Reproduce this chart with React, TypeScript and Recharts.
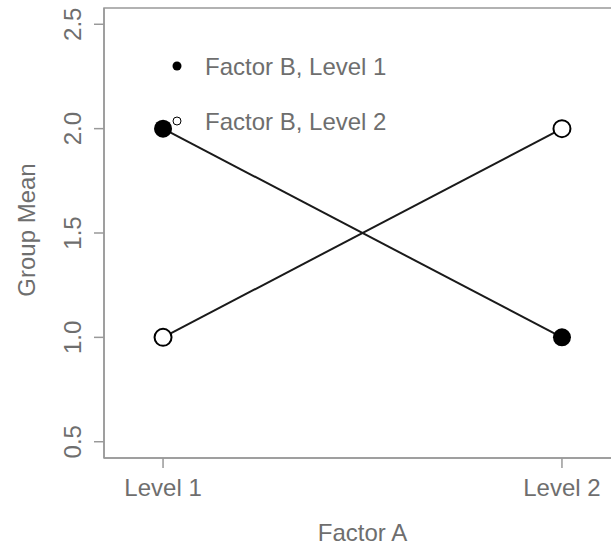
import React from "react";
import { LineChart, Line, XAxis, YAxis, ReferenceArea, Legend } from "recharts";

const factorALevels = [1, 2];
const factorALabels = ["Level 1", "Level 2"];
const seriesB1 = [2, 1];
const seriesB2 = [1, 2];
const yTicks = [0.5, 1.0, 1.5, 2.0, 2.5];
const seriesNames = ["Factor B, Level 1", "Factor B, Level 2"];

const xDomain: [number, number] = [0.852, 2.148];
const yDomain: [number, number] = [0.422, 2.578];

const data = factorALevels.map((x, i) => ({ x, b1: seriesB1[i], b2: seriesB2[i] }));

const FONT = "'Liberation Sans', Arial, Helvetica, sans-serif";
const TEXT = "#6e6e6e";
const AXIS = "#999999";
const FS = 24;

const YTick = (props: any) => {
  const { x, y, payload } = props;
  return (
    <text
      x={x}
      y={y}
      transform={`rotate(-90, ${x}, ${y})`}
      textAnchor="middle"
      fill={TEXT}
      fontSize={FS}
      fontFamily={FONT}
    >
      {Number(payload.value).toFixed(1)}
    </text>
  );
};

const FilledDot = (props: any) => {
  const { cx, cy } = props;
  if (cx == null || cy == null) return null;
  return <circle cx={cx} cy={cy} r={9} fill="#000" />;
};
const OpenDot = (props: any) => {
  const { cx, cy } = props;
  if (cx == null || cy == null) return null;
  return <circle cx={cx} cy={cy} r={8.5} fill="#fff" stroke="#000" strokeWidth={2} />;
};

const LegendContent = () => (
  <svg width={300} height={100} style={{ display: "block", overflow: "visible" }}>
    <circle cx={10} cy={10} r={4.5} fill="#000" />
    <text x={38} y={19} fill={TEXT} fontSize={FS} fontFamily={FONT}>{seriesNames[0]}</text>
    <circle cx={10} cy={65} r={4} fill="#fff" stroke="#000" strokeWidth={1} />
    <text x={38} y={74} fill={TEXT} fontSize={FS} fontFamily={FONT}>{seriesNames[1]}</text>
  </svg>
);

export default function App() {
  return (
    <div style={{ position: "absolute", left: 0, top: 0, width: 611, height: 547, overflow: "hidden" }}>
      <LineChart width={640} height={547} data={data} margin={{ top: 8, right: 19, left: 0, bottom: 0 }}>
        <Legend
          layout="horizontal"
          verticalAlign="middle"
          align="center"
          content={LegendContent}
          wrapperStyle={{ left: 167, top: 56, width: 300, height: 100 }}
        />
        <ReferenceArea
          x1={xDomain[0]}
          x2={xDomain[1]}
          y1={yDomain[0]}
          y2={yDomain[1]}
          fill="none"
          stroke={AXIS}
          strokeWidth={1.5}
          ifOverflow="visible"
        />
        <XAxis
          dataKey="x"
          type="number"
          domain={xDomain}
          ticks={factorALevels}
          tickFormatter={(v: number) => factorALabels[factorALevels.indexOf(v)]}
          allowDataOverflow
          height={89}
          tickSize={10}
          tickMargin={11}
          stroke={AXIS}
          strokeWidth={1.5}
          tick={{ fill: TEXT, fontSize: FS, fontFamily: FONT }}
          label={{
            content: (p: any) => {
              const vb = p.viewBox;
              return (
                <text x={vb.x + vb.width / 2} y={vb.y + 83} textAnchor="middle" fill={TEXT} fontSize={FS} fontFamily={FONT}>
                  Factor A
                </text>
              );
            },
          }}
        />
        <YAxis
          type="number"
          domain={yDomain}
          ticks={yTicks}
          allowDataOverflow
          width={104}
          tickSize={10}
          tickMargin={13}
          stroke={AXIS}
          strokeWidth={1.5}
          tick={YTick}
          label={{
            content: (p: any) => {
              const vb = p.viewBox;
              const cx = vb.x + 35;
              const cy = vb.y + vb.height / 2 - 3;
              return (
                <text x={cx} y={cy} transform={`rotate(-90, ${cx}, ${cy})`} textAnchor="middle" fill={TEXT} fontSize={FS} fontFamily={FONT}>
                  Group Mean
                </text>
              );
            },
          }}
        />
        <Line dataKey="b1" name={seriesNames[0]} stroke="#1a1a1a" strokeWidth={2} dot={FilledDot} isAnimationActive={false} />
        <Line dataKey="b2" name={seriesNames[1]} stroke="#1a1a1a" strokeWidth={2} dot={OpenDot} isAnimationActive={false} />
      </LineChart>
    </div>
  );
}
